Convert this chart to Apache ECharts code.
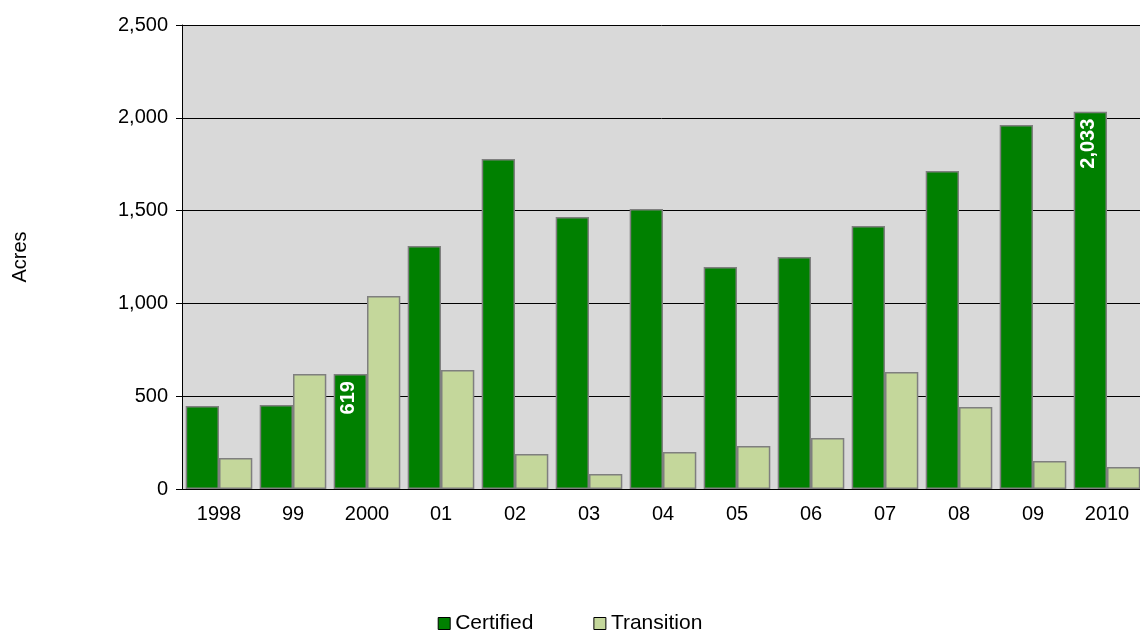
<!DOCTYPE html>
<html><head><meta charset="utf-8">
<script src="https://cdn.jsdelivr.net/npm/echarts@6/dist/echarts.min.js"></script>
<style>html,body{margin:0;background:#fff}#chart{width:1140px;height:631px}</style>
</head><body><div id="chart"></div>
<script>
var years = ['1998', '99', '2000', '01', '02', '03', '04', '05', '06', '07', '08', '09', '2010'];
var certified = [447, 453, 619, 1309, 1778, 1466, 1509, 1196, 1250, 1417, 1713, 1961, 2033];
var transition = [167, 620, 1040, 641, 189, 81, 199, 232, 275, 630, 442, 151, 119];
var labelled = [2, 12];

var chart = echarts.init(document.getElementById('chart'));
var font = 'Liberation Sans, Arial, sans-serif';
chart.setOption({
    animation: false,
    textStyle: { fontFamily: font },
    grid: { left: 182, right: -4, top: 25, bottom: 142, backgroundColor: '#d9d9d9', show: true, borderWidth: 0,
        outerBoundsMode: 'none', containLabel: false },
    legend: {
        top: 608, itemWidth: 12, itemHeight: 12, itemGap: 60,
        icon: 'rect',
        itemStyle: { borderColor: '#000', borderWidth: 1 },
        textStyle: { fontSize: 21, color: '#000', fontFamily: font },
        data: ['Certified', 'Transition']
    },
    xAxis: {
        type: 'category', data: years,
        axisLine: { lineStyle: { color: '#000' } },
        axisTick: { lineStyle: { color: '#000' }, length: 6 },
        axisLabel: { color: '#000', fontSize: 20, margin: 15 }
    },
    yAxis: {
        type: 'value', min: 0, max: 2500, interval: 500,
        name: 'Acres', nameLocation: 'middle', nameGap: 152, nameRotate: 90,
        nameTextStyle: { fontSize: 20, color: '#000' },
        axisLine: { show: true, lineStyle: { color: '#000' } },
        axisTick: { show: true, inside: false, length: 6, lineStyle: { color: '#000' } },
        splitLine: { lineStyle: { color: '#000' } },
        axisLabel: { color: '#000', fontSize: 20, margin: 14,
            formatter: function (v) { return v.toLocaleString('en-US'); } }
    },
    series: [
        {
            name: 'Certified', type: 'bar', barGap: '0%', barCategoryGap: '10%',
            itemStyle: { color: '#008000', borderColor: '#7f7f7f', borderWidth: 1.5 },
            data: certified.map(function (v, i) {
                return labelled.indexOf(i) >= 0 ? {
                    value: v,
                    label: { show: true, position: 'insideTop', rotate: 90, align: 'right',
                        verticalAlign: 'middle', offset: [-2, -2], color: '#fff', fontWeight: 'bold', fontSize: 20,
                        formatter: function (p) { return p.value.toLocaleString('en-US'); } }
                } : v;
            })
        },
        {
            name: 'Transition', type: 'bar',
            itemStyle: { color: '#c4d79b', borderColor: '#7f7f7f', borderWidth: 1.5 },
            data: transition
        }
    ]
});
</script></body></html>
